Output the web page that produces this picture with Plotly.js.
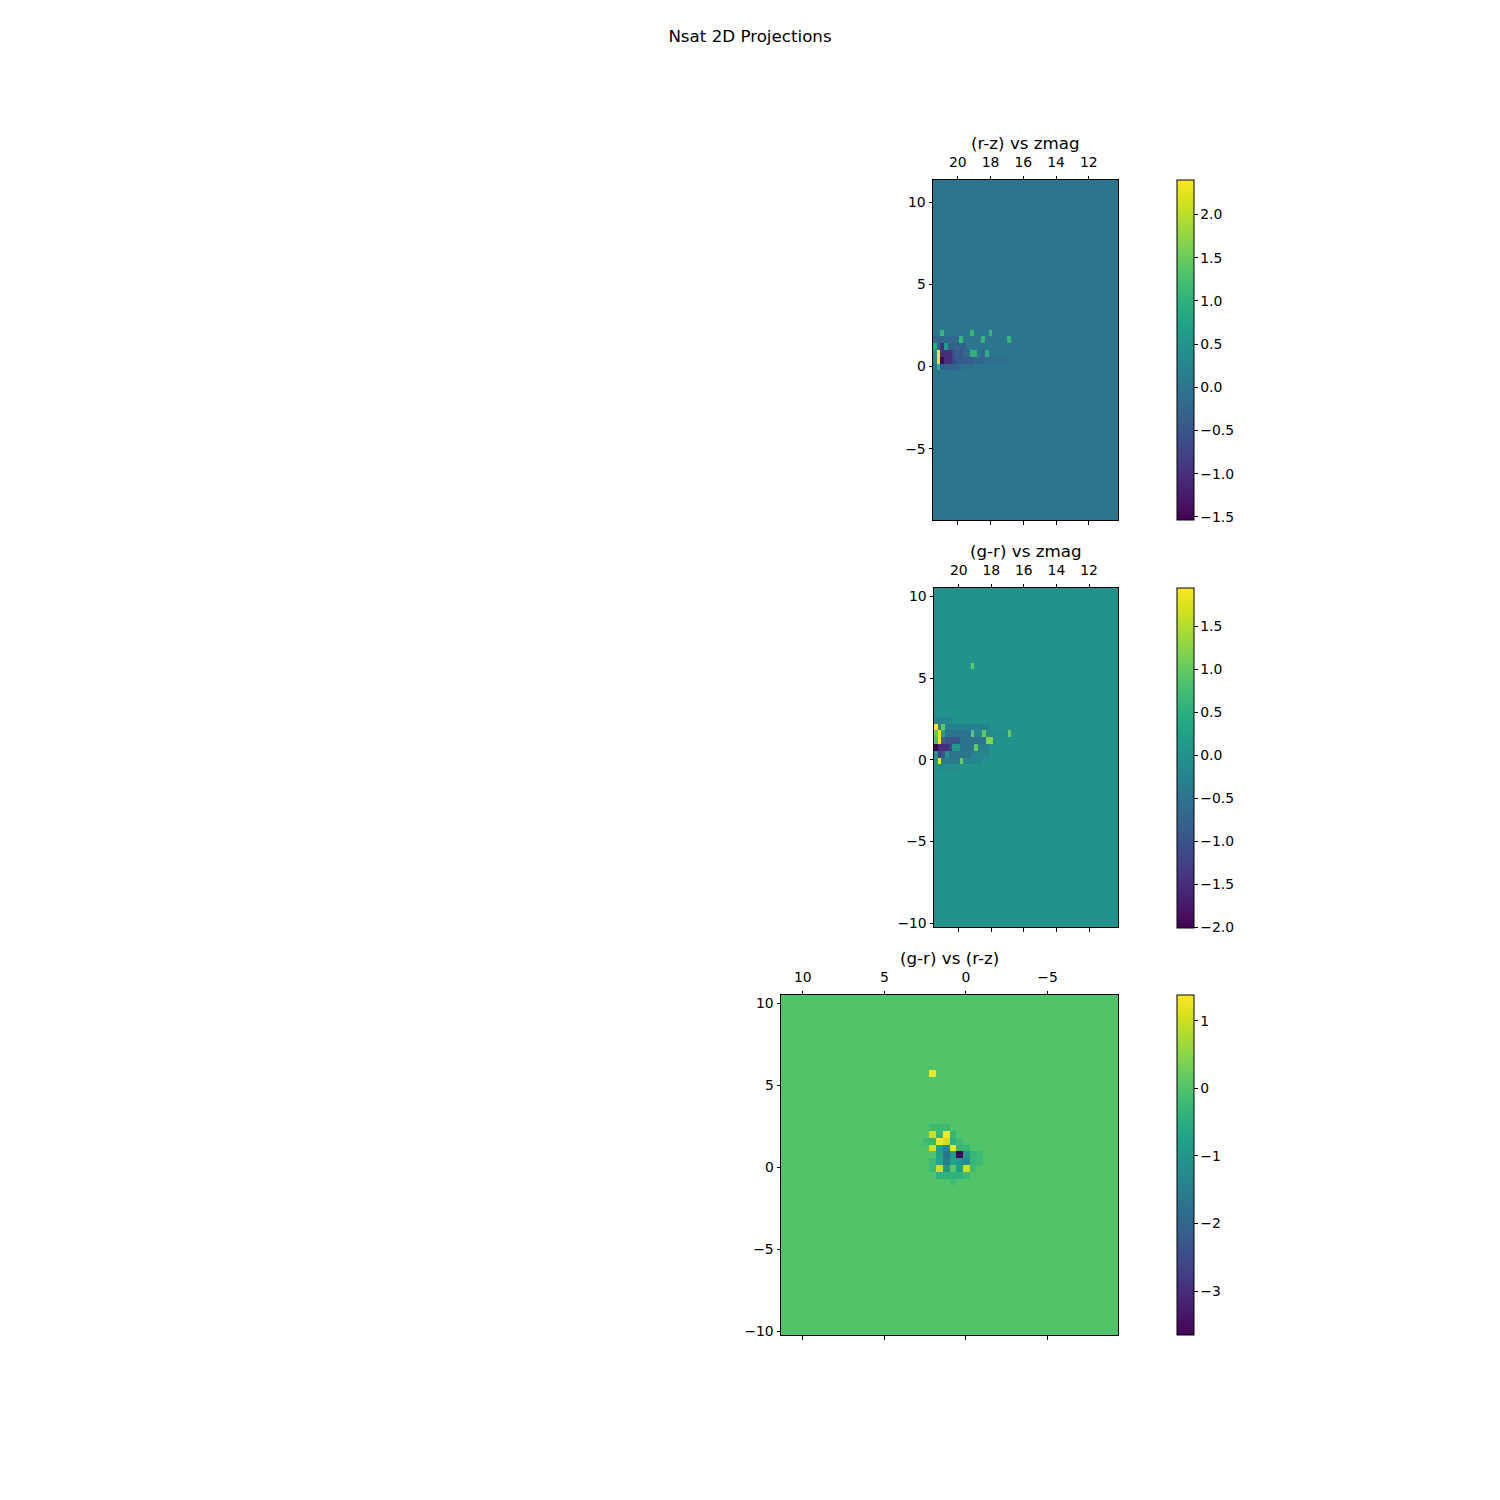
<!DOCTYPE html>
<html>
<head>
<meta charset="utf-8">
<script src="https://cdn.plot.ly/plotly-3.0.1.min.js"></script>
<style>html,body{margin:0;padding:0;background:#fff;}#chart{width:1500px;height:1500px;}</style>
</head>
<body>
<div id="chart"></div>
<script>
// ---- data ----
const nBins = 50;
const zmagRange = [10.22, 21.52];
const rzRange = [-9.32, 11.34];
const grRange = [-10.24, 10.52];

// cells: [xBin, yBin, value]; all other bins are 0
// panel 1: x = zmag bin, y = (r-z) bin
const rzZmagCells = [
  [47,27,1.1],[39,27,1.1],[34,27,1.1],
  [42,26,1.1],[36,26,1.1],[29,26,1.1],[49,26,-0.2],[48,26,-0.2],[47,26,-0.2],[46,26,-0.2],[45,26,-0.2],[44,26,-0.2],[43,26,-0.2],
  [49,25,0.9],[48,25,-0.3],[47,25,-1.0],[46,25,0.6],[45,25,-0.3],[44,25,-0.3],[43,25,-0.3],[42,25,-0.3],[41,25,-0.3],
  [49,24,0.3],[48,24,2.40],[47,24,-1.0],[46,24,-1.0],[45,24,-1.0],[44,24,-0.6],[43,24,-0.3],[42,24,-0.5],[41,24,-0.2],[40,24,-0.2],[39,24,1.0],[38,24,1.0],[36,24,-0.2],[35,24,1.0],
  [49,23,0.2],[48,23,2.3],[47,23,-1.535],[46,23,-1.0],[45,23,-1.0],[44,23,-0.7],[43,23,-0.5],[42,23,-0.4],[41,23,-0.4],[40,23,-0.4],[39,23,-0.4],[38,23,-0.2],[37,23,-0.2],[36,23,-0.2],[35,23,-0.2],[34,23,-0.1],[33,23,-0.1],[32,23,-0.1],[31,23,-0.1],[30,23,-0.1],[29,23,-0.1],
  [48,22,1.0],[47,22,-0.3],[46,22,-0.3],[45,22,-0.3],[44,22,-0.3],[43,22,-0.3],[42,22,-0.1],[41,22,-0.1],[40,22,-0.1],[39,22,-0.1]
];
// panel 2: x = zmag bin, y = (g-r) bin
const grZmagCells = [
  [39,38,1.0],
  [49,30,-0.2],[48,30,-0.2],[47,30,-0.2],[46,30,-0.2],[45,30,-0.2],
  [49,29,1.95],[48,29,-0.3],[47,29,1.0],[46,29,-0.3],[45,29,-0.3],[44,29,-0.3],[43,29,-0.3],[42,29,-0.3],[41,29,-0.3],[40,29,-0.3],[39,29,-0.3],[38,29,-0.3],[37,29,-0.3],[36,29,-0.3],[35,29,-0.3],
  [49,28,1.0],[48,28,1.8],[47,28,0.2],[46,28,-0.5],[45,28,-0.5],[44,28,-0.5],[43,28,-0.5],[42,28,-0.5],[41,28,-0.5],[40,28,-0.5],[39,28,1.0],[38,28,-0.2],[37,28,-0.2],[36,28,1.0],[35,28,-0.1],[34,28,-0.1],[33,28,-0.1],[32,28,-0.1],[31,28,-0.1],[30,28,-0.1],[29,28,1.0],
  [49,27,0.8],[48,27,1.8],[47,27,-0.8],[46,27,-1.0],[45,27,-1.0],[44,27,-1.0],[43,27,-1.0],[42,27,-0.5],[41,27,-0.5],[40,27,-0.5],[39,27,-0.5],[38,27,-0.5],[37,27,-0.5],[36,27,-0.5],[35,27,1.2],[34,27,1.2],[33,27,-0.1],
  [49,26,-2.0],[48,26,-1.5],[47,26,-1.5],[46,26,-1.5],[45,26,-1.2],[44,26,0.1],[43,26,0.1],[42,26,-0.5],[41,26,-0.5],[40,26,-0.5],[39,26,-0.5],[38,26,1.0],[37,26,-0.3],[36,26,-0.3],[35,26,-0.3],
  [48,25,-1.3],[47,25,-1.0],[45,25,-0.5],[44,25,-0.5],[43,25,-0.5],[42,25,-0.5],[41,25,-0.5],[40,25,-0.5],[39,25,-0.2],[38,25,-0.2],[37,25,-0.2],[36,25,-0.2],[35,25,-0.2],
  [48,24,1.8],[47,24,-0.4],[46,24,-0.4],[45,24,-0.4],[44,24,-0.4],[43,24,-0.4],[42,24,1.0],[41,24,-0.2],[40,24,-0.2],[39,24,-0.2],[38,24,-0.2],[37,24,-0.2],
  [48,23,-0.1],[47,23,-0.1],[46,23,-0.1],[45,23,-0.1],[44,23,-0.1],[43,23,-0.1]
];
// panel 3: x = (r-z) bin, y = (g-r) bin
const grRzCells = [
  [27,38,1.3],
  [25,30,-0.2],[26,30,-0.2],[27,30,-0.2],
  [27,29,1.0],[26,29,-0.3],[25,29,1.38],[24,29,-0.3],
  [28,28,-0.2],[27,28,-0.3],[26,28,1.3],[25,28,1.0],[24,28,-0.4],[23,28,-0.2],
  [27,27,1.1],[26,27,-0.8],[25,27,-1.3],[24,27,1.3],[23,27,-0.3],[22,27,-0.3],
  [26,26,-0.7],[25,26,-1.8],[24,26,-0.9],[23,26,-3.65],[22,26,-0.9],[21,26,-0.3],[20,26,-0.2],
  [27,25,-0.2],[26,25,-0.6],[25,25,-1.5],[24,25,-0.7],[23,25,-1.0],[22,25,-1.2],[21,25,-0.3],[20,25,-0.2],
  [27,24,-0.2],[26,24,1.0],[25,24,-1.0],[24,24,0.1],[23,24,-0.8],[22,24,1.0],[21,24,-0.2],
  [26,23,-0.4],[25,23,-0.4],[24,23,-0.4],[23,23,-0.4],[22,23,-0.2],
  [24,22,-0.2]
];

const titles = ['(r-z) vs zmag', '(g-r) vs zmag', '(g-r) vs (r-z)'];
const mainTitle = 'Nsat 2D Projections';

// ---- build ----
function edges(r){const e=[];for(let i=0;i<=nBins;i++)e.push(r[0]+(r[1]-r[0])*i/nBins);return e;}
function grid(cells){
  const z=[];for(let r=0;r<nBins;r++){z.push(new Array(nBins).fill(0));}
  cells.forEach(c=>{z[c[1]][c[0]]=c[2];});
  return z;
}
const FONT='DejaVu Sans, sans-serif';
const tickF={family:FONT,size:13.9,color:'#000'};
function cbar(y,dtick,fmt){
  return {x:1177/1500,xanchor:'left',y:y,yanchor:'middle',len:340/1500,lenmode:'fraction',
    thickness:17,thicknessmode:'pixels',xpad:0,ypad:0,outlinewidth:1,outlinecolor:'#000',
    ticks:'outside',ticklen:3.5,tickwidth:1,tickcolor:'#000',tickfont:tickF,
    tick0:0,dtick:dtick,tickformat:fmt};
}
function hm(cells,xr,yr,xa,ya,cb){
  const z=grid(cells);
  return {type:'heatmap',x:edges(xr),y:edges(yr),z:z,xaxis:xa,yaxis:ya,colorscale:'Viridis',
    zmin:Math.min(0,...cells.map(c=>c[2])),zmax:Math.max(0,...cells.map(c=>c[2])),
    colorbar:cb,hoverinfo:'skip'};
}
const traces=[
  hm(rzZmagCells,zmagRange,rzRange,'x','y',cbar(1-350/1500,0.5,'.1f')),
  hm(grZmagCells,zmagRange,grRange,'x2','y2',cbar(1-757.5/1500,0.5,'.1f')),
  hm(grRzCells,rzRange,grRange,'x3','y3',cbar(1-1165/1500,1,'d'))
];
function xax(dom,range,tv,anchor){
  return {domain:dom,anchor:anchor,side:'top',range:range,autorange:false,tickvals:tv,
    ticks:'outside',ticklen:3.5,tickwidth:1,tickcolor:'#000',showline:true,linecolor:'#000',linewidth:1,
    mirror:'ticks',showgrid:false,zeroline:false,tickfont:tickF,ticklabelstandoff:3};
}
function yax(dom,range,tv,anchor){
  return {domain:dom,anchor:anchor,range:range,autorange:false,tickvals:tv,
    ticks:'outside',ticklen:3.5,tickwidth:1,tickcolor:'#000',showline:true,linecolor:'#000',linewidth:1,
    mirror:true,showgrid:false,zeroline:false,tickfont:tickF};
}
function ann(text,x,y){return {text:text,x:x,y:y,xref:'paper',yref:'paper',xanchor:'center',yanchor:'middle',showarrow:false,font:{family:FONT,size:16.7,color:'#000'}};}
const layout={
  width:1500,height:1500,margin:{l:0,r:0,t:0,b:0},paper_bgcolor:'#fff',plot_bgcolor:'#fff',
  showlegend:false,font:{family:FONT,color:'#000'},
  title:{text:mainTitle,x:0.5,xanchor:'center',y:1-36/1500,yanchor:'middle',yref:'container',font:{family:FONT,size:16.7,color:'#000'}},
  xaxis:xax([933/1500,1118/1500],[zmagRange[1],zmagRange[0]],[12,14,16,18,20],'y'),
  yaxis:yax([1-520/1500,1-180/1500],rzRange,[-5,0,5,10],'x'),
  xaxis2:xax([934/1500,1118/1500],[zmagRange[1],zmagRange[0]],[12,14,16,18,20],'y2'),
  yaxis2:yax([1-927/1500,1-588/1500],grRange,[-10,-5,0,5,10],'x2'),
  xaxis3:xax([781/1500,1118/1500],[rzRange[1],rzRange[0]],[-5,0,5,10],'y3'),
  yaxis3:yax([1-1335/1500,1-995/1500],grRange,[-10,-5,0,5,10],'x3'),
  annotations:[ann(titles[0],1025.5/1500,1-143/1500),ann(titles[1],1026/1500,1-551/1500),ann(titles[2],949.5/1500,1-958/1500)]
};
Plotly.newPlot('chart',traces,layout,{displayModeBar:false,staticPlot:true});
</script>
</body>
</html>
